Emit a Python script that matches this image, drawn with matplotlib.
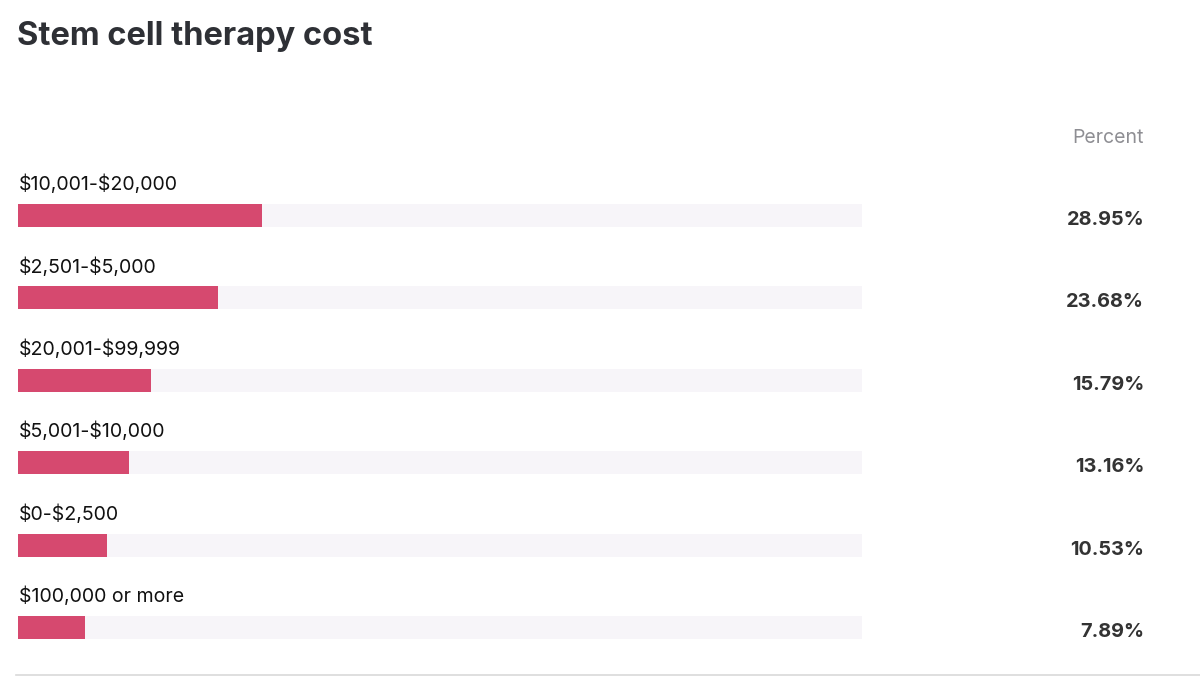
import matplotlib.pyplot as plt

plt.rcParams["text.parse_math"] = False

# data
categories = ["$10,001-$20,000", "$2,501-$5,000", "$20,001-$99,999",
              "$5,001-$10,000", "$0-$2,500", "$100,000 or more"]
percents = [28.95, 23.68, 15.79, 13.16, 10.53, 7.89]

W, H = 1200, 688
fig = plt.figure(figsize=(W / 100, H / 100), dpi=100)
fig.patch.set_facecolor("white")

def fx(px):
    return px / W

def fy(py):
    return 1 - py / H

# bar area: pixels 18..862 horizontally, full height in pixel units vertically
ax = fig.add_axes([fx(18), 0, fx(862) - fx(18), 1])
ax.set_xlim(0, 100)
ax.set_ylim(H, 0)
ax.axis("off")

row0 = 215.5
step = 82.4
bar_h = 23
rows = [row0 + i * step for i in range(len(categories))]

ax.barh(rows, [100] * len(rows), height=bar_h, left=0, color="#f7f5f9", linewidth=0)
ax.barh(rows, percents, height=bar_h, left=0, color="#d6496f", linewidth=0)

font = "Inter"
for y, cat, p in zip(rows, categories, percents):
    fig.text(fx(19), fy(y - 31), cat, ha="left", va="center",
             fontsize=14.1, family=font, color="#111111")
    fig.text(fx(1144), fy(y + 4.5), f"{p:.2f}%", ha="right", va="center",
             fontsize=14.3, family=font, fontweight="bold", color="#333333")

fig.text(fx(1144), fy(138), "Percent", ha="right", va="center",
         fontsize=14, family=font, color="#8e8e93")

fig.text(fx(17), fy(37), "Stem cell therapy cost", ha="left", va="center",
         fontsize=23.5, family=font, fontweight="bold", color="#2e3035")

# bottom rule
fig.add_artist(plt.Line2D([fx(16), 1], [fy(675), fy(675)], color="#d9d9d9", lw=1.2))

fig.savefig("out.png", dpi=100, facecolor="white")
